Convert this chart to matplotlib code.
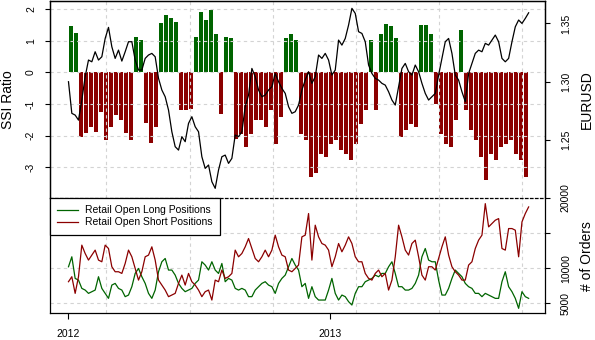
import numpy as np
import pandas as pd
import matplotlib
matplotlib.use("Agg")
import matplotlib.pyplot as plt
import matplotlib.dates as mdates

plt.rcParams['font.family'] = ['Liberation Sans', 'DejaVu Sans']
plt.rcParams['axes.unicode_minus'] = False

# --- DATA ---
# SSI ratio, one value per week
ssi = [1.45, 1.23, -2.04, -1.93, -1.72, -1.88, -1.27, -2.14, -1.72, -1.35,
       -1.51, -1.93, -2.14, 1.13, 1.02, -1.61, -2.25, -1.72, 1.55, 1.81,
       1.71, 1.60, -1.20, -1.19, -1.15, 1.13, 1.90, 1.65, 1.96, 1.22,
       -1.31, 1.12, 1.10, -2.10, -1.94, -2.36, -1.94, -1.52, -1.52, -1.73,
       -1.20, -2.26, -1.41, 1.07, 1.22, 1.01, -1.94, -2.15, -3.30, -3.20,
       -2.57, -2.68, -2.26, -2.15, -2.47, -2.57, -2.78, -2.26, -1.62, -1.20,
       1.01, -1.20, 1.22, 1.54, 1.45, 1.07, -2.05, -1.84, -1.62, -1.73,
       1.49, 1.49, 1.20, -0.99, -1.94, -2.26, -2.36, -1.52, 1.34, -1.20,
       -1.84, -2.15, -2.68, -3.41, -2.57, -2.78, -2.36, -2.26, -2.15, -2.57,
       -2.78, -3.30]

# EURUSD, sampled every 112 hours
eurusd = [1.3000, 1.2729, 1.2714, 1.2671, 1.2843, 1.3043, 1.3186, 1.3171, 1.3257, 1.3186,
          1.3214, 1.3371, 1.3466, 1.3300, 1.3200, 1.3271, 1.3177, 1.3257, 1.3343, 1.3343,
          1.3186, 1.3100, 1.3100, 1.3200, 1.3229, 1.3243, 1.3214, 1.3029, 1.2929, 1.2871,
          1.2757, 1.2571, 1.2443, 1.2414, 1.2529, 1.2486, 1.2643, 1.2700, 1.2614, 1.2571,
          1.2357, 1.2257, 1.2286, 1.2143, 1.2086, 1.2243, 1.2357, 1.2371, 1.2300, 1.2343,
          1.2543, 1.2529, 1.2571, 1.2786, 1.2886, 1.3114, 1.3043, 1.2929, 1.2871, 1.2886,
          1.2929, 1.2957, 1.3071, 1.3000, 1.2943, 1.2900, 1.2786, 1.2729, 1.2743, 1.2800,
          1.2929, 1.3014, 1.3086, 1.2986, 1.3043, 1.3229, 1.3200, 1.3243, 1.3186, 1.3057,
          1.3100, 1.3357, 1.3314, 1.3371, 1.3486, 1.3629, 1.3586, 1.3429, 1.3414, 1.3343,
          1.3143, 1.3071, 1.3029, 1.3014, 1.2986, 1.2971, 1.2914, 1.2843, 1.2800, 1.2957,
          1.3114, 1.3157, 1.3086, 1.3057, 1.3143, 1.3086, 1.2986, 1.2900, 1.2843, 1.2871,
          1.2900, 1.3057, 1.3200, 1.3343, 1.3371, 1.3243, 1.3057, 1.3014, 1.2914, 1.2829,
          1.3071, 1.3157, 1.3243, 1.3271, 1.3257, 1.3329, 1.3314, 1.3357, 1.3400, 1.3343,
          1.3200, 1.3171, 1.3200, 1.3343, 1.3471, 1.3529, 1.3500, 1.3543, 1.3591]

# open positions (# of orders), same sampling as EURUSD
long_pos = [10210, 11630, 8550, 8310, 7130, 6890, 6420, 6660, 6890, 8790,
            7130, 6420, 5710, 7600, 7840, 7130, 6890, 5950, 6180, 7370,
            9260, 9970, 8790, 7840, 6420, 5710, 6890, 9500, 10920, 11390,
            9740, 9740, 9020, 7840, 7130, 6660, 6890, 7130, 7840, 8310,
            10920, 10450, 9740, 10920, 9740, 9260, 10680, 8080, 8550, 8310,
            7130, 6890, 7130, 6890, 5950, 5950, 6890, 7370, 7840, 8080,
            7600, 7370, 6420, 7840, 8550, 9020, 10210, 11390, 10450, 9740,
            7370, 7840, 5710, 7370, 5950, 5470, 5470, 5470, 6890, 8550,
            6420, 5470, 6180, 5950, 5240, 4760, 6420, 7370, 7370, 8080,
            8310, 8550, 9020, 8790, 9260, 9260, 10210, 10920, 9260, 7370,
            7370, 6890, 6890, 7130, 7840, 9020, 11630, 12810, 11160, 10920,
            10920, 8310, 6180, 6180, 7130, 8550, 9740, 9260, 8790, 7840,
            7370, 7130, 6420, 6420, 5950, 6420, 6180, 5950, 5710, 5710,
            8080, 9500, 7370, 6660, 5710, 4290, 6660, 5950, 5710]

short_pos = [8080, 8790, 6420, 8790, 13290, 12100, 11160, 11870, 12580, 11160,
             10920, 13290, 12810, 10210, 9500, 9500, 9260, 10680, 12580, 11630,
             9970, 8310, 9500, 11630, 11870, 13050, 11160, 8310, 7600, 6890,
             5950, 6180, 6420, 7840, 9020, 7600, 9260, 8080, 7600, 6890,
             5950, 6660, 6890, 5470, 8310, 8080, 9740, 8550, 8790, 9260,
             12580, 11630, 12100, 13050, 14230, 12810, 11390, 10920, 11630, 12580,
             11630, 12580, 14710, 13050, 11870, 11630, 9740, 9500, 9970, 10450,
             14470, 14710, 17790, 11160, 16130, 14470, 13520, 13290, 12580, 10210,
             11630, 13520, 12340, 13290, 14470, 13520, 11630, 10920, 10920, 9260,
             8550, 8310, 9260, 9740, 8790, 9260, 6890, 8310, 11630, 16130,
             14470, 12580, 11870, 13520, 14000, 11630, 9020, 8310, 10210, 10210,
             9740, 11390, 13050, 14470, 11870, 10210, 9500, 9020, 8310, 8310,
             10450, 10920, 12810, 14000, 14710, 19200, 15890, 16360, 16840, 17070,
             12810, 12580, 15650, 15650, 15420, 11630, 16600, 17790, 18730]

year_ticks = ['2012-01-01', '2013-01-01']
year_labels = ['2012', '2013']

# --- DATES ---
ssi_x = mdates.date2num(pd.date_range('2012-01-02', periods=len(ssi), freq='7D'))
line_x = mdates.date2num(pd.date_range('2012-01-01', periods=len(eurusd), freq='112h'))
ssi = np.array(ssi)

x0 = mdates.date2num(pd.Timestamp('2012-01-01'))
xlim = (x0 - 25.9, x0 + 667.6)
grid_x = x0 + 53.2 + 116.3 * np.arange(6)

green = '#006400'
red = '#8B0000'
grid_kw = dict(color='#D3D3D3', lw=0.8, ls=(0, (3, 3)))

fig = plt.figure(figsize=(5.95, 3.4), dpi=100)
ax1 = fig.add_axes([0.0840, 0.4176, 0.8328, 0.5794])
ax2 = fig.add_axes([0.0840, 0.0785, 0.8328, 0.3391])

# --- TOP PANEL: SSI bars + EURUSD ---
ax1.bar(ssi_x, ssi, width=5, align='edge', color=np.where(ssi > 0, green, red), lw=0, zorder=1)
for g in grid_x:
    ax1.axvline(g, zorder=2, **grid_kw)
for h in range(-3, 3):
    ax1.axhline(h, zorder=2, **grid_kw)
ax1.set_xlim(xlim)
ax1.set_ylim(-3.978, 2.256)
ax1.set_yticks(range(-3, 3))
ax1.set_yticklabels([str(v) for v in range(-3, 3)])
ax1.set_xticks([])
ax1.set_ylabel('SSI Ratio', fontsize=10)
ax1.yaxis.set_label_coords(-0.0848, 0.5)
ax1.yaxis.label.set_va('center')
ax1.spines['bottom'].set_visible(False)

ax1r = ax1.twinx()
ax1r.plot(line_x, eurusd, color='black', lw=0.9)
ax1r.set_ylim(1.2003, 1.3692)
ax1r.set_yticks([1.25, 1.30, 1.35])
ax1r.set_yticklabels(['1.25', '1.30', '1.35'])
ax1r.set_ylabel('EURUSD', fontsize=10)
ax1r.yaxis.set_label_coords(1.0838, 0.5)
ax1r.yaxis.label.set_va('center')
ax1r.spines['bottom'].set_visible(False)

# --- BOTTOM PANEL: open positions ---
for g in grid_x:
    ax2.axvline(g, zorder=0, **grid_kw)
for h in [5000, 10000, 15000]:
    ax2.axhline(h, zorder=0, **grid_kw)
ax2.plot(line_x, long_pos, color=green, lw=0.9, label='Retail Open Long Positions')
ax2.plot(line_x, short_pos, color=red, lw=0.9, label='Retail Open Short Positions')
ax2.set_xlim(xlim)
ax2.set_ylim(3580, 20000)
ax2.yaxis.tick_right()
ax2.yaxis.set_label_position('right')
ax2.set_yticks([5000, 10000, 15000, 20000])
ax2.set_yticklabels(['5000', '10000', '', '20000'])
ax2.set_ylabel('# of Orders', fontsize=10)
ax2.yaxis.set_label_coords(1.0838, 0.5)
ax2.yaxis.label.set_va('center')
ax2.set_xticks(mdates.date2num(pd.to_datetime(year_ticks)))
ax2.set_xticklabels(year_labels)
ax2.spines['top'].set_linestyle((0, (2, 2)))

leg = ax2.legend(loc='upper left', fontsize=7.5, frameon=True, fancybox=False,
                 edgecolor='black', framealpha=1, borderaxespad=0,
                 handlelength=2.0, handletextpad=0.7, labelspacing=0.2,
                 borderpad=0.7)
leg.get_frame().set_linewidth(0.9)

for ax in (ax1, ax1r, ax2):
    for s in ax.spines.values():
        s.set_linewidth(0.9)
    ax.tick_params(direction='out', length=3.6, width=0.8, labelsize=7.5)
    ax.tick_params(axis='y', labelrotation=90)
    for lab in ax.get_yticklabels():
        lab.set_va('center')
ax1.tick_params(axis='y', pad=6.5)
ax1r.tick_params(axis='y', pad=7.5)
ax2.tick_params(axis='y', pad=7.5)
ax2.tick_params(axis='x', length=4.5, pad=6.5)

fig.savefig('out.png', dpi=100)
